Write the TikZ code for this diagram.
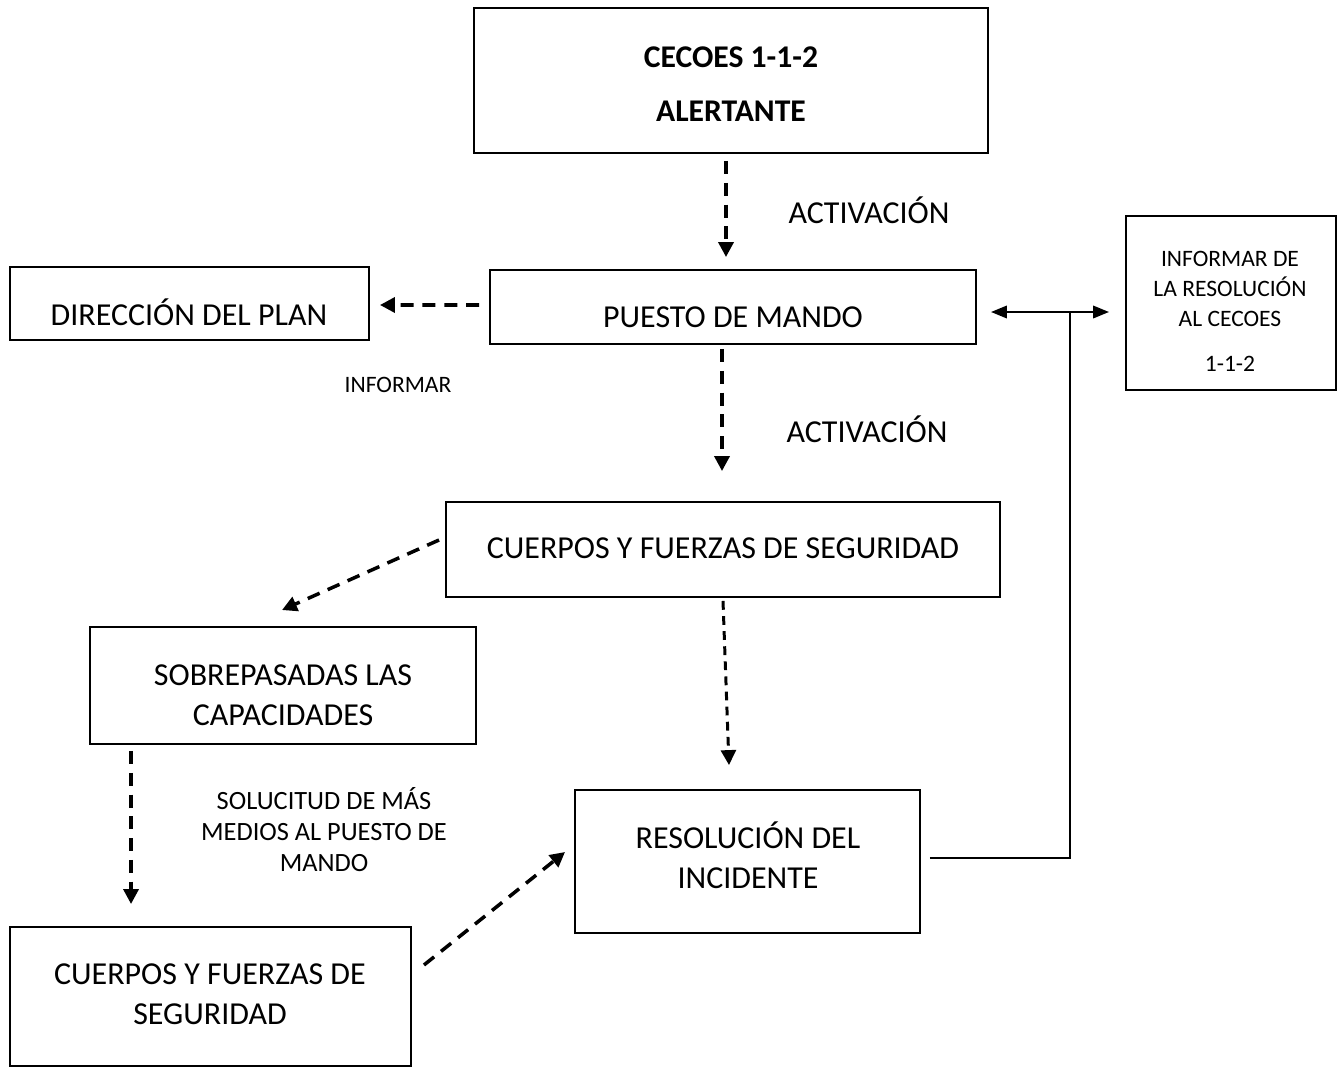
\documentclass[tikz,border=0pt]{standalone}
\usepackage{fontspec}
\setmainfont{Carlito}
\usetikzlibrary{calc,arrows.meta}
\begin{document}
\begin{tikzpicture}[x=0.02cm,y=-0.02cm,
  box/.style={draw,line width=1.1pt,rectangle,inner sep=0pt},
  big/.style={font=\fontsize{18.2}{22.7}\selectfont,align=center,inner sep=0pt},
  small/.style={font=\fontsize{13.4}{17.3}\selectfont,align=center,inner sep=0pt},
  darr/.style={line width=2pt,dash pattern=on 7.4pt off 5pt,-{Triangle[width=8.5pt,length=8.5pt]}},
  farr/.style={line width=1.7pt,dash pattern=on 5pt off 3.6pt,-{Triangle[width=8.5pt,length=8.5pt]}},
  sline/.style={line width=1.1pt}
]
\useasboundingbox (0,0) rectangle (1339,1068);
% boxes
\node[box,minimum width=514*0.02cm,minimum height=145*0.02cm] (cecoes) at (731,80.5) {};
\node[box,minimum width=359*0.02cm,minimum height=73*0.02cm] (dir) at (189.5,303.5) {};
\node[box,minimum width=486*0.02cm,minimum height=74*0.02cm] (puesto) at (733,307) {};
\node[box,minimum width=210*0.02cm,minimum height=174*0.02cm] (informar) at (1231,303) {};
\node[box,minimum width=554*0.02cm,minimum height=95*0.02cm] (cuerpos1) at (723,549.5) {};
\node[box,minimum width=386*0.02cm,minimum height=117*0.02cm] (sobre) at (283,685.5) {};
\node[box,minimum width=345*0.02cm,minimum height=143*0.02cm] (resol) at (747.5,861.5) {};
\node[box,minimum width=401*0.02cm,minimum height=139*0.02cm] (cuerpos2) at (210.5,996.5) {};
% texts
\node[big,font=\fontsize{18}{30.6}\selectfont\bfseries] (cecoesT) at (731,84) {CECOES 1-1-2\\ALERTANTE};
\node[big] (act1) at (869,210) {ACTIVACIÓN};
\node[big] (dirT) at (189,312) {DIRECCIÓN DEL PLAN};
\node[big] (puestoT) at (733,317) {PUESTO DE MANDO};
\node[small] (infL) at (398,385) {INFORMAR};
\node[big] (act2) at (867,429) {ACTIVACIÓN};
\node[small] (informarT) at (1230,311) {INFORMAR DE\\LA RESOLUCIÓN\\AL CECOES\\[8pt]1-1-2};
\node[big] (cuerpos1T) at (723,548) {CUERPOS Y FUERZAS DE SEGURIDAD};
\node[big] (sobreT) at (283,695) {SOBREPASADAS LAS\\CAPACIDADES};
\node[small,font=\fontsize{15}{17.6}\selectfont] (solT) at (324,830) {SOLUCITUD DE MÁS\\MEDIOS AL PUESTO DE\\MANDO};
\node[big] (resolT) at (748,855) {RESOLUCIÓN DEL\\INCIDENTE};
\node[big] (cuerpos2T) at (210,994) {CUERPOS Y FUERZAS DE\\SEGURIDAD};
% dashed arrows
\draw[darr] ($(cecoes.south)+(-5,7)$) -- ($(puesto.north)+(-7,-12)$);
\draw[darr] ($(puesto.west)+(-10,-2)$) -- ($(dir.east)+(10,1.5)$);
\draw[darr] ($(puesto.south)+(-11,4)$) -- ($(cuerpos1.north)+(-1,-30)$);
\draw[darr] ($(cuerpos1.west)+(-6,-9.5)$) -- ($(sobre.north)+(-1,-16)$);
\draw[farr] ($(cuerpos1.south)+(0,3)$) -- ($(resol.north)+(-18.5,-24)$);
\draw[darr] ($(sobre.south west)+(42,6)$) -- ($(cuerpos2.north west)+(122,-22)$);
\draw[darr] ($(cuerpos2.east)+(12,-31.5)$) -- ($(resol.west)+(-9,-9.5)$);
% solid connectors
\coordinate (j) at ($(puesto.east)+(93,5)$);
\draw[sline] ($(resol.east)+(9,-3.5)$) -| (j);
\draw[sline,line width=1.3pt,{Triangle[width=7pt,length=9pt]}-{Triangle[width=7pt,length=9pt]}] ($(puesto.east)+(14,5)$) -- ($(informar.west)+(-16,9)$);
\end{tikzpicture}
\end{document}
